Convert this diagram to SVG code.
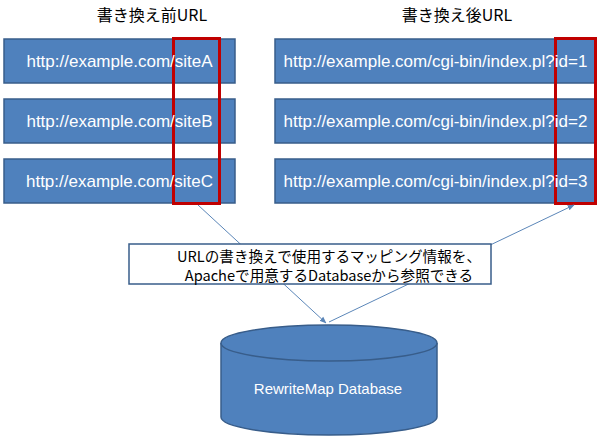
<svg xmlns="http://www.w3.org/2000/svg" width="600" height="439" viewBox="0 0 600 439">
<defs>
<style>
.box{fill:#4F81BD;stroke:#385D8A;stroke-width:1.5}
.url{fill:#fff;font-family:"Liberation Sans",Arial,sans-serif;font-size:17px;text-anchor:middle}
.title{fill:#000;font-family:"Noto Sans CJK JP",sans-serif;font-size:16px;text-anchor:middle}
.hl{fill:none;stroke:#C00000;stroke-width:3}
.conn{stroke:#5B86B8;stroke-width:1;fill:none;marker-end:url(#arr)}
.note{fill:#000;font-family:"Noto Sans CJK JP",sans-serif;font-size:14.6px;text-anchor:middle}
</style>
<marker id="arr" viewBox="0 0 10 10" refX="9" refY="5" markerWidth="7" markerHeight="7" orient="auto-start-reverse">
<path d="M0,1 L10,5 L0,9 z" fill="#5B86B8"/>
</marker>
</defs>
<rect width="600" height="439" fill="#fff"/>
<text class="title" x="152" y="21">書き換え前URL</text>
<text class="title" x="457" y="21">書き換え後URL</text>
<g id="src1"><rect class="box" x="4" y="39" width="231" height="44"/></g>
<g id="src2"><rect class="box" x="4" y="99" width="231" height="44"/></g>
<g id="src3"><rect class="box" x="4" y="159" width="231" height="44"/></g>
<g id="dst1"><rect class="box" x="275" y="39" width="320" height="44"/></g>
<g id="dst2"><rect class="box" x="275" y="99" width="320" height="44"/></g>
<g id="dst3"><rect class="box" x="275" y="159" width="320" height="44"/></g>
<g id="hl-left"><rect class="hl" x="173.5" y="38.5" width="46" height="165"/></g>
<g id="hl-right"><rect class="hl" x="555.5" y="38.5" width="40" height="165"/></g>
<g id="labels">
<text class="url" x="119.5" y="67">http://example.com/siteA</text>
<text class="url" x="119.5" y="127">http://example.com/siteB</text>
<text class="url" x="119.5" y="187">http://example.com/siteC</text>
<text class="url" x="435.5" y="67">http://example.com/cgi-bin/index.pl?id=1</text>
<text class="url" x="435.5" y="127">http://example.com/cgi-bin/index.pl?id=2</text>
<text class="url" x="435.5" y="187">http://example.com/cgi-bin/index.pl?id=3</text>
</g>
<g id="connectors">
<line class="conn" x1="198" y1="205" x2="326" y2="323"/>
<line class="conn" x1="329" y1="322" x2="574" y2="205"/>
</g>
<g id="note"><rect x="129" y="244" width="362" height="40" fill="#fff" stroke="#385D8A" stroke-width="1.5"/>
<text class="note" x="329" y="262">URLの書き換えで使用するマッピング情報を、</text>
<text class="note" x="329" y="281">Apacheで用意するDatabaseから参照できる</text></g>
<g id="db">
<path d="M221,343 L221,417 A108,18 0 0 0 437,417 L437,343" fill="#4F81BD" stroke="#385D8A" stroke-width="1.5"/>
<ellipse cx="329" cy="343" rx="108" ry="18" fill="#4F81BD" stroke="#385D8A" stroke-width="1.5"/>
<text x="328" y="394" fill="#fff" font-family="Liberation Sans, Arial, sans-serif" font-size="15" text-anchor="middle">RewriteMap Database</text>
</g>
</svg>
